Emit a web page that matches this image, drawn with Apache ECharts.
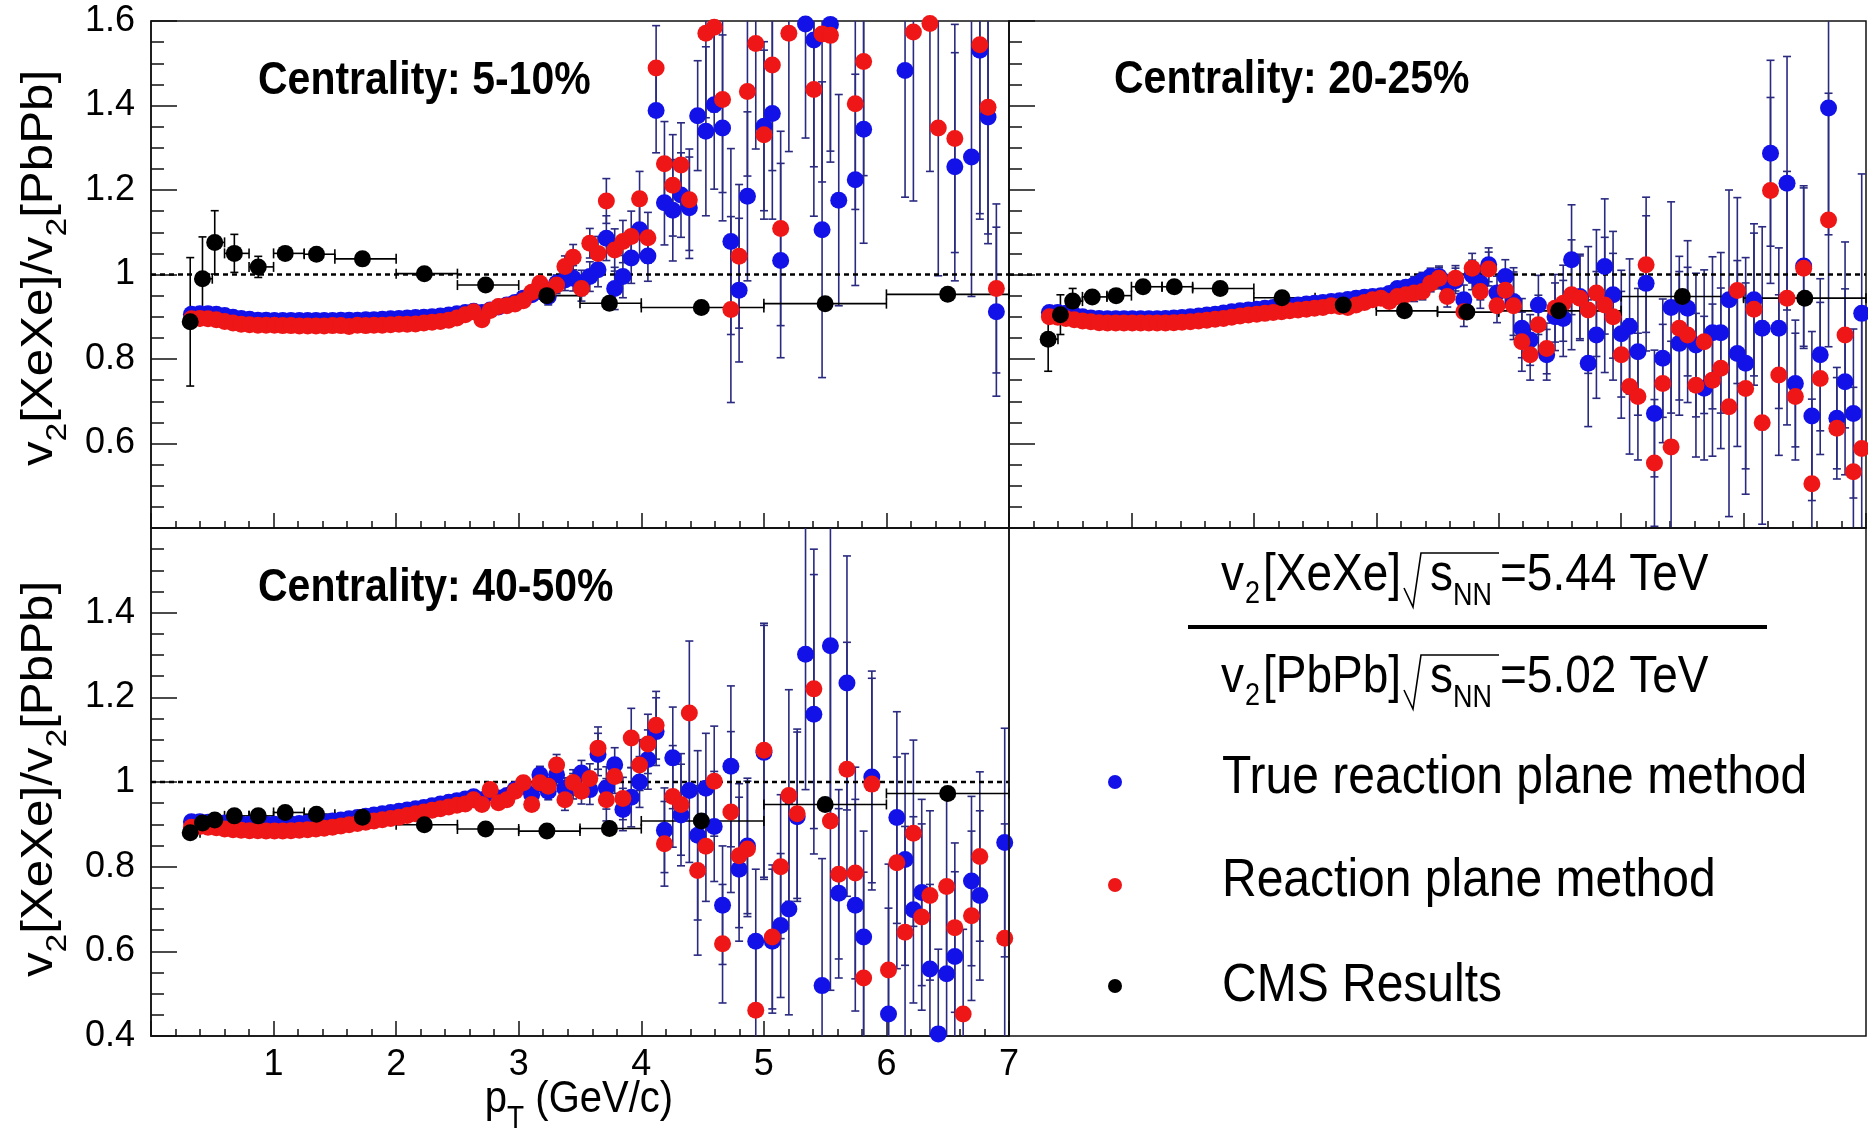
<!DOCTYPE html>
<html><head><meta charset="utf-8">
<script src="https://cdn.jsdelivr.net/npm/echarts@6/dist/echarts.min.js"></script>
<style>html,body{margin:0;padding:0;background:#fff}#c{width:1868px;height:1132px}</style>
</head><body><div id="c"></div>
<script>
// ---------------- DATA ----------------
const pT = [0.330,0.398,0.465,0.533,0.601,0.669,0.736,0.804,0.872,0.939,
1.007,1.075,1.142,1.210,1.278,1.346,1.413,1.481,1.549,1.616,
1.684,1.752,1.819,1.887,1.955,2.023,2.090,2.158,2.226,2.293,
2.361,2.429,2.496,2.564,2.632,2.700,2.767,2.835,2.903,2.970,
3.038,3.106,3.173,3.241,3.309,3.377,3.444,3.512,3.580,3.647,
3.715,3.783,3.850,3.918,3.986,4.054,4.121,4.189,4.257,4.324,
4.392,4.460,4.527,4.595,4.663,4.731,4.798,4.866,4.934,5.001,
5.069,5.137,5.204,5.272,5.340,5.408,5.475,5.543,5.611,5.678,
5.746,5.814,5.881,5.949,6.017,6.085,6.152,6.220,6.288,6.355,
6.423,6.491,6.558,6.626,6.694,6.762,6.829,6.897,6.965];

// Centrality 5-10%
const trueRP_5_10 = [0.906,0.907,0.907,0.906,0.903,0.899,0.896,0.894,0.892,0.892,
0.891,0.891,0.891,0.891,0.891,0.891,0.891,0.891,0.892,0.892,
0.892,0.893,0.893,0.894,0.895,0.896,0.897,0.898,0.899,0.900,
0.902,0.904,0.907,0.910,0.913,0.910,0.916,0.923,0.928,0.934,
0.944,0.952,0.960,0.948,0.979,0.987,0.991,0.980,0.995,1.011,
1.086,0.967,0.995,1.039,1.106,1.044,1.388,1.170,1.152,1.188,
1.158,1.376,1.339,1.402,1.347,1.078,0.963,1.185,null,1.351,
1.381,1.033,null,null,1.593,1.555,1.106,1.592,1.176,null,
1.224,1.344,null,null,null,null,1.483,null,null,null,
null,null,1.255,null,1.278,1.531,1.373,0.912,null];
const rp_5_10 = [0.895,0.896,0.895,0.893,0.889,0.885,0.882,0.881,0.880,0.880,
0.880,0.879,0.879,0.878,0.878,0.878,0.878,0.879,0.879,0.877,
0.880,0.879,0.880,0.880,0.881,0.882,0.882,0.883,0.885,0.887,
0.889,0.892,0.897,0.905,0.912,0.893,0.915,0.924,0.926,0.930,
0.938,0.958,0.979,0.960,0.975,1.019,1.041,0.967,1.074,1.050,
1.174,1.058,1.078,1.090,1.179,1.087,1.489,1.262,1.211,1.259,
1.177,null,1.571,1.585,1.414,0.917,1.043,1.433,1.547,1.331,
1.496,1.109,1.571,null,null,1.438,1.569,1.566,null,null,
1.404,1.504,null,null,null,null,null,1.574,null,1.594,
1.347,null,1.322,null,null,1.544,1.396,0.967,null];
const err_5_10 = [0.004,0.004,0.004,0.004,0.004,0.004,0.004,0.004,0.004,0.004,
0.004,0.004,0.004,0.004,0.004,0.004,0.004,0.004,0.004,0.004,
0.004,0.004,0.004,0.004,0.004,0.004,0.004,0.004,0.004,0.004,
0.004,0.004,0.004,0.004,0.004,0.004,0.004,0.004,0.004,0.004,
0.010,0.012,0.015,0.020,0.020,0.025,0.030,0.030,0.035,0.040,
0.053,0.050,0.050,0.060,0.065,0.060,0.100,0.100,0.120,0.100,
0.120,0.130,0.200,0.200,0.220,0.220,0.170,0.200,0.250,0.200,
0.250,0.230,0.280,0.300,0.270,0.300,0.350,0.300,0.250,0.300,
0.250,0.270,0.300,0.300,0.300,0.300,0.300,0.400,0.350,0.350,
0.350,0.300,0.270,0.300,0.330,0.400,0.300,0.200,0.300];

// Centrality 20-25%
const trueRP_20_25 = [0.910,0.910,0.908,0.904,0.900,0.897,0.896,0.895,0.895,0.895,
0.895,0.895,0.895,0.895,0.896,0.897,0.898,0.900,0.902,0.904,
0.906,0.909,0.912,0.914,0.916,0.918,0.920,0.922,0.924,0.926,
0.928,0.930,0.932,0.934,0.936,0.938,0.941,0.944,0.946,0.948,
0.950,0.955,0.967,0.970,0.975,0.985,0.995,0.995,0.975,0.985,
0.940,0.999,0.980,1.023,0.956,0.995,0.936,0.873,0.845,0.928,
0.810,0.900,0.896,1.035,0.948,0.790,0.857,1.019,0.952,0.860,
0.877,0.817,0.979,0.671,0.802,0.922,0.837,0.920,0.833,0.731,
0.862,0.862,0.940,0.813,0.790,0.940,0.873,1.287,0.873,1.216,
0.742,1.020,0.665,0.810,1.394,0.660,0.746,0.671,0.908];
const rp_20_25 = [0.900,0.899,0.896,0.893,0.890,0.888,0.886,0.885,0.885,0.885,
0.885,0.885,0.885,0.885,0.885,0.886,0.887,0.888,0.890,0.892,
0.894,0.896,0.899,0.902,0.904,0.906,0.908,0.910,0.912,0.914,
0.916,0.918,0.920,0.922,0.926,0.924,0.922,0.928,0.934,0.940,
0.944,0.936,0.948,0.952,0.956,0.960,0.979,0.991,0.948,0.991,
0.912,1.015,0.960,1.013,0.926,0.963,0.926,0.841,0.810,0.881,
0.825,0.920,0.932,0.952,0.944,0.916,0.956,0.928,0.900,0.810,
0.735,0.711,1.023,0.554,0.742,0.592,0.873,0.857,0.738,0.841,
0.750,0.778,0.687,0.962,0.730,0.918,0.649,1.199,0.762,0.944,
0.711,1.015,0.505,0.754,1.129,0.636,0.857,0.533,0.588];
const err_20_25 = [0.003,0.003,0.003,0.003,0.003,0.003,0.003,0.003,0.003,0.003,
0.003,0.003,0.003,0.003,0.003,0.003,0.003,0.003,0.003,0.003,
0.003,0.003,0.003,0.003,0.003,0.003,0.003,0.003,0.003,0.003,
0.003,0.003,0.003,0.003,0.003,0.003,0.003,0.003,0.003,0.003,
0.010,0.012,0.015,0.015,0.020,0.020,0.020,0.025,0.025,0.030,
0.035,0.035,0.040,0.040,0.040,0.040,0.080,0.070,0.060,0.070,
0.060,0.080,0.090,0.130,0.100,0.150,0.150,0.160,0.150,0.150,
0.160,0.150,0.160,0.150,0.140,0.250,0.170,0.160,0.170,0.170,
0.180,0.190,0.260,0.220,0.250,0.180,0.240,0.220,0.190,0.300,
0.150,0.190,0.200,0.180,0.300,0.120,0.220,0.200,0.330];

// Centrality 40-50%
const trueRP_40_50 = [0.906,0.906,0.905,0.904,0.903,0.902,0.901,0.900,0.900,0.900,
0.900,0.900,0.901,0.902,0.903,0.904,0.906,0.908,0.910,0.913,
0.916,0.919,0.922,0.925,0.928,0.931,0.934,0.937,0.940,0.944,
0.948,0.952,0.956,0.960,0.965,0.958,0.975,0.962,0.968,0.982,
0.990,0.970,1.017,0.978,1.017,0.985,0.990,1.021,0.982,1.065,
0.986,1.041,0.935,0.964,1.000,1.053,1.119,0.886,1.057,0.922,
0.980,0.874,0.985,0.895,0.709,1.037,0.794,0.849,0.624,1.070,
0.624,0.661,0.700,0.918,1.302,1.160,0.519,1.322,0.737,1.234,
0.709,0.634,1.012,null,0.452,0.916,0.817,0.698,0.739,0.558,
0.405,0.547,0.588,null,0.766,0.732,null,null,0.857];
const rp_40_50 = [0.893,0.895,0.893,0.892,0.889,0.887,0.886,0.885,0.885,0.884,
0.884,0.884,0.885,0.886,0.887,0.889,0.891,0.893,0.896,0.899,
0.902,0.905,0.908,0.911,0.914,0.917,0.921,0.925,0.929,0.933,
0.937,0.941,0.945,0.948,0.958,0.947,0.982,0.951,0.958,0.978,
0.998,0.947,0.998,0.990,1.040,0.958,0.999,0.978,1.008,1.080,
0.958,1.013,0.961,1.104,1.040,1.090,1.134,0.854,0.966,0.947,
1.163,0.791,0.848,1.002,0.618,0.929,0.826,0.842,0.461,1.075,
0.634,0.800,0.968,0.925,null,1.220,null,0.908,0.782,1.030,
0.785,0.537,0.995,null,0.556,0.809,0.645,0.879,0.681,0.732,
null,0.753,0.656,0.452,0.684,0.824,null,null,0.631];
const err_40_50 = [0.003,0.003,0.003,0.003,0.003,0.003,0.003,0.003,0.003,0.003,
0.003,0.003,0.003,0.003,0.003,0.003,0.003,0.003,0.003,0.003,
0.003,0.003,0.003,0.003,0.003,0.003,0.003,0.003,0.003,0.003,
0.003,0.003,0.003,0.003,0.003,0.003,0.003,0.003,0.003,0.003,
0.015,0.015,0.020,0.020,0.025,0.025,0.030,0.030,0.035,0.050,
0.050,0.040,0.050,0.070,0.060,0.070,0.080,0.100,0.120,0.120,
0.170,0.200,0.130,0.130,0.140,0.190,0.170,0.160,0.170,0.300,
0.170,0.170,0.250,0.200,0.320,0.330,0.300,0.400,0.200,0.300,
0.250,0.250,0.250,0.250,0.250,0.250,0.250,0.220,0.220,0.200,
0.200,0.220,0.200,0.200,0.200,0.200,0.200,0.200,0.270];

// CMS results
const cmsPt = [0.32,0.42,0.52,0.68,0.875,1.095,1.35,1.725,2.23,2.73,3.23,3.74,4.49,5.5,6.5];
const cmsLo = [0.3,0.4,0.5,0.6,0.8,1.0,1.25,1.5,2.0,2.5,3.0,3.5,4.0,5.0,6.0];
const cmsHi = [0.4,0.5,0.6,0.8,1.0,1.25,1.5,2.0,2.5,3.0,3.5,4.0,5.0,6.0,7.0];
const cms_5_10 = [0.888,0.990,1.076,1.050,1.018,1.050,1.048,1.037,1.002,0.975,0.950,0.932,0.922,0.931,0.953];
const cmsErr_5_10 = [0.152,0.099,0.075,0.045,0.025,0.006,0.006,0.006,0.006,0.006,0.006,0.006,0.006,0.006,0.006];
const cms_20_25 = [0.847,0.905,0.937,0.947,0.950,0.971,0.971,0.967,0.945,0.928,0.914,0.911,0.914,0.948,0.944];
const cmsErr_20_25 = [0.076,0.047,0.030,0.008,0.006,0.006,0.006,0.006,0.006,0.006,0.006,0.006,0.006,0.006,0.006];
const cms_40_50 = [0.880,0.903,0.910,0.920,0.920,0.928,0.924,0.917,0.899,0.889,0.884,0.890,0.908,0.947,0.973];
const cmsErr_40_50 = [0.012,0.010,0.008,0.006,0.006,0.006,0.006,0.006,0.006,0.006,0.006,0.006,0.006,0.006,0.006];

const yTicks = [0.4, 0.6, 0.8, 1.0, 1.2, 1.4, 1.6];
const xTicks = [1, 2, 3, 4, 5, 6, 7];
const panelNames = ['Centrality: 5-10%', 'Centrality: 20-25%', 'Centrality: 40-50%'];
const legendNames = ['True reaction plane method', 'Reaction plane method', 'CMS Results'];

// ---------------- CHART ----------------
const FONT = "'Liberation Sans', Arial, Helvetica, sans-serif";
const YMIN = 0.4, YMAX = 1.6;
const BLUE = '#1212e8', RED = '#ee1616', NAVY = '#2a2a80';
const MS = 17;
const SY = 1.13; // vertical stretch of horizontal texts

const grids = [
  {left: 151, top: 21, width: 858, height: 507},
  {left: 1009, top: 21, width: 857, height: 507},
  {left: 151, top: 528, width: 858, height: 508}
].map(g => Object.assign(g, {show: true, borderColor: '#111', borderWidth: 1.5,
  containLabel: false, outerBoundsMode: 'none'}));

function xAx(i, showLabels) {
  return {type: 'value', gridIndex: i, min: 0, max: 7, interval: 1,
    axisLine: {show: true, onZero: false, lineStyle: {color: '#111', width: 1.5}},
    axisTick: {show: true, inside: true, length: 15, lineStyle: {color: '#111', width: 1.5}},
    minorTick: {show: true, splitNumber: 5, length: 7, lineStyle: {color: '#111', width: 1.5}},
    splitLine: {show: false}, minorSplitLine: {show: false},
    axisLabel: {show: showLabels, margin: 11, fontSize: 36, color: '#000', fontFamily: FONT,
      showMinLabel: true, showMaxLabel: true, hideOverlap: false,
      formatter: v => (xTicks.indexOf(Math.round(v)) >= 0 ? String(Math.round(v)) : '')}
  };
}
function yAx(i, showLabels, hidden) {
  return {type: 'value', gridIndex: i, min: YMIN, max: YMAX, interval: 0.2,
    axisLine: {show: true, onZero: false, lineStyle: {color: '#111', width: 1.5}},
    axisTick: {show: true, inside: true, length: 26, lineStyle: {color: '#111', width: 1.5}},
    minorTick: {show: true, splitNumber: 4, length: 13, lineStyle: {color: '#111', width: 1.5}},
    splitLine: {show: false}, minorSplitLine: {show: false},
    axisLabel: {show: showLabels, margin: 16, fontSize: 36, color: '#000', fontFamily: FONT,
      showMinLabel: true, showMaxLabel: true, hideOverlap: false,
      formatter: v => {
        const r = Math.round(v * 10) / 10;
        if (hidden.indexOf(r) >= 0 || yTicks.indexOf(r) < 0) return '';
        return r === 1 ? '1' : r.toFixed(1);
      }}
  };
}

function pts(ys) {
  const out = [];
  ys.forEach((y, i) => { if (y !== null) out.push([pT[i], y]); });
  return out;
}
function errPts(ys, es) {
  const out = [];
  ys.forEach((y, i) => { if (y !== null) out.push([pT[i], y, es[i], pT[i], pT[i]]); });
  return out;
}
function cmsPts(ys) { return ys.map((y, i) => [cmsPt[i], y]); }
function cmsErrPts(ys, es) { return ys.map((y, i) => [cmsPt[i], y, es[i], cmsLo[i], cmsHi[i]]); }

function errRenderer(color, capW, capH) {
  return function (params, api) {
    const x = api.value(0), y = api.value(1), e = api.value(2), xl = api.value(3), xh = api.value(4);
    const st = {stroke: color, lineWidth: 1.6};
    const ch = [];
    if (y - e < YMAX && y + e > YMIN) {
      const lo = Math.max(y - e, YMIN), hi = Math.min(y + e, YMAX);
      const a = api.coord([x, lo]), b = api.coord([x, hi]);
      ch.push({type: 'line', shape: {x1: a[0], y1: a[1], x2: b[0], y2: b[1]}, style: st});
      if (y - e >= YMIN) ch.push({type: 'line', shape: {x1: a[0] - capW, y1: a[1], x2: a[0] + capW, y2: a[1]}, style: st});
      if (y + e <= YMAX) ch.push({type: 'line', shape: {x1: b[0] - capW, y1: b[1], x2: b[0] + capW, y2: b[1]}, style: st});
    }
    if (xh > xl && y >= YMIN && y <= YMAX) {
      const l = api.coord([xl, y]), r = api.coord([xh, y]);
      ch.push({type: 'line', shape: {x1: l[0], y1: l[1], x2: r[0], y2: r[1]}, style: st});
      ch.push({type: 'line', shape: {x1: l[0], y1: l[1] - capH, x2: l[0], y2: l[1] + capH}, style: st});
      ch.push({type: 'line', shape: {x1: r[0], y1: r[1] - capH, x2: r[0], y2: r[1] + capH}, style: st});
    }
    return {type: 'group', children: ch};
  };
}

const panels = [
  {b: trueRP_5_10, r: rp_5_10, e: err_5_10, c: cms_5_10, ce: cmsErr_5_10},
  {b: trueRP_20_25, r: rp_20_25, e: err_20_25, c: cms_20_25, ce: cmsErr_20_25},
  {b: trueRP_40_50, r: rp_40_50, e: err_40_50, c: cms_40_50, ce: cmsErr_40_50}
];

const series = [];
panels.forEach((p, i) => {
  const ax = {xAxisIndex: i, yAxisIndex: i};
  series.push(Object.assign({type: 'line', data: [[0, 1], [7, 1]], symbol: 'none', silent: true,
    lineStyle: {color: '#000', width: 2.6, type: [5, 4]}, z: 2}, ax));
  series.push(Object.assign({type: 'custom', name: legendNames[0], data: errPts(p.b, p.e),
    renderItem: errRenderer(NAVY, 4, 0), silent: true, z: 2}, ax));
  series.push(Object.assign({type: 'scatter', name: legendNames[0], data: pts(p.b), symbol: 'circle',
    symbolSize: MS, itemStyle: {color: BLUE, opacity: 1}, silent: true, z: 2}, ax));
  series.push(Object.assign({type: 'custom', name: legendNames[1], data: errPts(p.r, p.e),
    renderItem: errRenderer(NAVY, 4, 0), silent: true, z: 2}, ax));
  series.push(Object.assign({type: 'scatter', name: legendNames[1], data: pts(p.r), symbol: 'circle',
    symbolSize: MS, itemStyle: {color: RED, opacity: 1}, silent: true, z: 2}, ax));
  series.push(Object.assign({type: 'custom', name: legendNames[2], data: cmsErrPts(p.c, p.ce),
    renderItem: errRenderer('#000', 4, 5), silent: true, z: 2}, ax));
  series.push(Object.assign({type: 'scatter', name: legendNames[2], data: cmsPts(p.c), symbol: 'circle',
    symbolSize: MS, itemStyle: {color: '#000', opacity: 1}, silent: true, z: 2}, ax));
});

function txt(x, y, text, size, extra) {
  return {type: 'text', x: x, y: y, z: 100, scaleY: SY,
    style: Object.assign({text: text, fontSize: size, fontFamily: FONT, fill: '#000',
      align: 'left', verticalAlign: 'middle'}, extra || {})};
}
const yTitleRich = {
  a: {fontSize: 44, fontFamily: FONT, lineHeight: 52, color: '#000'},
  s: {fontSize: 30, fontFamily: FONT, lineHeight: 30, padding: [36, 0, 0, 0], color: '#000'}
};
const xTitleRich = {
  a: {fontSize: 40, fontFamily: FONT, lineHeight: 48, color: '#000'},
  s: {fontSize: 28, fontFamily: FONT, lineHeight: 28, padding: [34, 0, 0, 0], color: '#000'}
};

const graphic = [
  // legend panel frame
  {type: 'rect', z: 90, shape: {x: 1009, y: 528, width: 857, height: 508},
    style: {fill: 'none', stroke: '#111', lineWidth: 1.5}},
  // centrality labels
  txt(258, 81, panelNames[0], 41, {fontWeight: 'bold'}),
  txt(1114, 80, panelNames[1], 41, {fontWeight: 'bold'}),
  txt(258, 588, panelNames[2], 41, {fontWeight: 'bold'}),
  // y titles
  {type: 'text', x: 40, y: 268, rotation: Math.PI / 2, scaleX: 1.12, z: 100,
    style: {text: '{a|v}{s|2}{a|[XeXe]/v}{s|2}{a|[PbPb]}', rich: yTitleRich, align: 'center', verticalAlign: 'middle'}},
  {type: 'text', x: 40, y: 779, rotation: Math.PI / 2, scaleX: 1.12, z: 100,
    style: {text: '{a|v}{s|2}{a|[XeXe]/v}{s|2}{a|[PbPb]}', rich: yTitleRich, align: 'center', verticalAlign: 'middle'}},
  // x title
  {type: 'text', x: 579, y: 1100, z: 100, scaleY: SY,
    style: {text: '{a|p}{s|T}{a| (GeV/c)}', rich: xTitleRich, align: 'center', verticalAlign: 'middle'}},
  // legend header line 1
  txt(1221, 576, 'v', 46), txt(1245, 595, '2', 27), txt(1263, 576, '[XeXe]', 46),
  {type: 'polyline', z: 100, shape: {points: [[1404, 588], [1413, 607], [1421, 553], [1499, 553]]},
    style: {stroke: '#000', lineWidth: 1.6, fill: 'none'}},
  txt(1430, 576, 's', 46), txt(1453, 597, 'NN', 27), txt(1500, 576, '=5.44 TeV', 46),
  // separator
  {type: 'line', z: 100, shape: {x1: 1188, y1: 627, x2: 1767, y2: 627}, style: {stroke: '#000', lineWidth: 4}},
  // legend header line 2
  txt(1221, 678, 'v', 46), txt(1245, 697, '2', 27), txt(1263, 678, '[PbPb]', 46),
  {type: 'polyline', z: 100, shape: {points: [[1404, 690], [1413, 709], [1421, 655], [1499, 655]]},
    style: {stroke: '#000', lineWidth: 1.6, fill: 'none'}},
  txt(1430, 678, 's', 46), txt(1453, 699, 'NN', 27), txt(1500, 678, '=5.02 TeV', 46),
  // legend entries
  {type: 'circle', z: 100, shape: {cx: 1115, cy: 782, r: 7}, style: {fill: BLUE}},
  txt(1222, 778, legendNames[0], 48),
  {type: 'circle', z: 100, shape: {cx: 1115, cy: 885, r: 7}, style: {fill: RED}},
  txt(1222, 881, legendNames[1], 48),
  {type: 'circle', z: 100, shape: {cx: 1115, cy: 986, r: 7}, style: {fill: '#000'}},
  txt(1222, 986, legendNames[2], 48)
];

const chart = echarts.init(document.getElementById('c'), null, {renderer: 'canvas', width: 1868, height: 1132});
chart.setOption({
  animation: false,
  backgroundColor: '#fff',
  textStyle: {fontFamily: FONT},
  grid: grids,
  xAxis: [xAx(0, false), xAx(1, false), xAx(2, true)],
  yAxis: [yAx(0, true, [0.4]), yAx(1, false, []), yAx(2, true, [1.6])],
  series: series,
  graphic: graphic
});
</script>
</body></html>
